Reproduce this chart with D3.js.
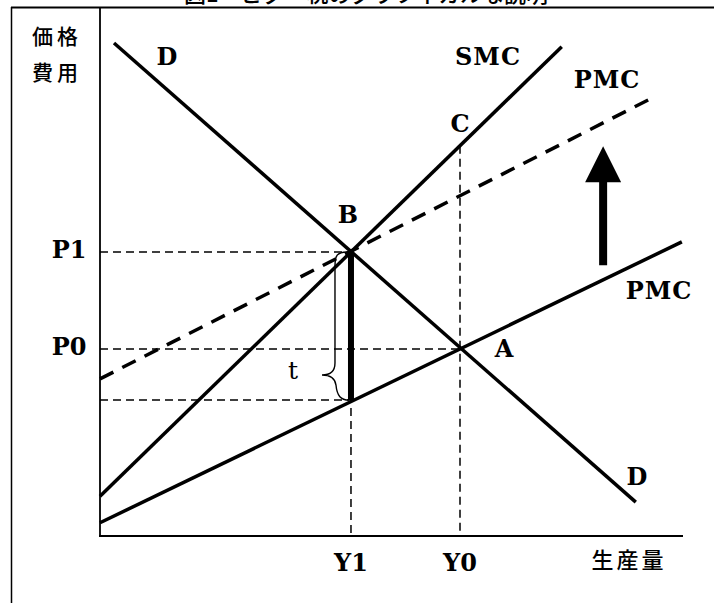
<!doctype html>
<html lang="ja">
<head>
<meta charset="utf-8">
<script src="https://d3js.org/d3.v7.min.js"></script>
<style>
  body { margin: 0; background: #fff; }
  svg { display: block; }
  .jp { font-family: "Noto Sans CJK JP", sans-serif; font-weight: 500; }
  .lbl { font-family: "DejaVu Serif", "Liberation Serif", serif; font-weight: bold; }
</style>
</head>
<body>
<div id="chart"></div>
<script>
// curves, each given by its two end points (quantity, price)
var curveD      = [[2.4, 93.2], [91.9, 6.4]];
var curveSMC    = [[0, 7.5], [79.2, 92.5]];
var curvePMC    = [[0, 2.5], [99.8, 55.6]];
var curvePMCtax = [[0, 29.7], [94.7, 82.8]];

// equilibrium values
var qLabels = ["Y1", "Y0"];
var qValues = [43.05, 61.75];
var pLabels = ["P1", "P0"];
var pValues = [53.7, 35.35];
var pLow = 25.7;          // PMC at Y1 (bottom of the tax wedge)
var shiftArrow = [86.3, 51.2, 73.7];   // x, from, to

var W = 714, H = 603;

var svg = d3.select("#chart").append("svg")
    .attr("width", W).attr("height", H);

var x = d3.scaleLinear().domain([0, 100]).range([100, 683]);
var y = d3.scaleLinear().domain([0, 100]).range([536, 7]);

// title (cut off at the top of the frame, as in the source)
svg.append("text").attr("class", "jp")
    .attr("x", 366).attr("y", 2)
    .attr("text-anchor", "middle")
    .style("font-size", "22px")
    .text("図1　ピグー税のグラフィカルな説明");

// outer frame
svg.append("line").attr("x1", 11).attr("x2", W).attr("y1", 7.5).attr("y2", 7.5)
    .attr("stroke", "#000").attr("stroke-width", 2);
svg.append("line").attr("x1", 11.5).attr("x2", 11.5).attr("y1", 7).attr("y2", H)
    .attr("stroke", "#000").attr("stroke-width", 1.5);

// axes
svg.append("line").attr("x1", x(0)).attr("x2", x(0)).attr("y1", 7).attr("y2", y(0))
    .attr("stroke", "#000").attr("stroke-width", 1.8);
svg.append("line").attr("x1", x(0) - 1).attr("x2", x(100)).attr("y1", y(0)).attr("y2", y(0))
    .attr("stroke", "#000").attr("stroke-width", 2);

// guide dashes
var guides = svg.append("g").attr("stroke", "#000").attr("stroke-width", 1.5)
    .attr("stroke-dasharray", "8,5");
guides.append("line").attr("x1", x(0)).attr("x2", x(qValues[0]))
    .attr("y1", y(pValues[0])).attr("y2", y(pValues[0]));
guides.append("line").attr("x1", x(0)).attr("x2", x(qValues[1]))
    .attr("y1", y(pValues[1])).attr("y2", y(pValues[1]));
guides.append("line").attr("x1", x(0)).attr("x2", x(qValues[0]))
    .attr("y1", y(pLow)).attr("y2", y(pLow));
guides.append("line").attr("x1", x(qValues[0])).attr("x2", x(qValues[0]))
    .attr("y1", y(pValues[0])).attr("y2", y(0));
var smcAtY0 = curveSMC[0][1] + (curveSMC[1][1] - curveSMC[0][1]) / (curveSMC[1][0] - curveSMC[0][0]) * qValues[1];
guides.append("line").attr("x1", x(qValues[1])).attr("x2", x(qValues[1]))
    .attr("y1", y(smcAtY0)).attr("y2", y(0));

var line = d3.line().x(function(d) { return x(d[0]); }).y(function(d) { return y(d[1]); });

svg.append("path").datum(curvePMCtax).attr("d", line)
    .attr("fill", "none").attr("stroke", "#000").attr("stroke-width", 3.5)
    .attr("stroke-dasharray", "15,10");
[curveD, curveSMC, curvePMC].forEach(function(c) {
  svg.append("path").datum(c).attr("d", line)
      .attr("fill", "none").attr("stroke", "#000").attr("stroke-width", 3.5);
});

// tax wedge
svg.append("line").attr("x1", x(qValues[0])).attr("x2", x(qValues[0]))
    .attr("y1", y(pValues[0])).attr("y2", y(pLow))
    .attr("stroke", "#000").attr("stroke-width", 6);

// brace
var bx = x(qValues[0]), bt = y(pValues[0]), bb = y(pLow), bm = bb - 25;
svg.append("path")
    .attr("d", "M" + (bx - 4) + "," + bt +
      " C" + (bx - 14) + "," + bt + " " + (bx - 16) + "," + (bt + 4) + " " + (bx - 16) + "," + (bt + 14) +
      " L" + (bx - 16) + "," + (bm - 12) +
      " C" + (bx - 16) + "," + (bm - 3) + " " + (bx - 22) + "," + bm + " " + (bx - 29) + "," + bm +
      " C" + (bx - 22) + "," + bm + " " + (bx - 16) + "," + (bm + 3) + " " + (bx - 15) + "," + (bm + 10) +
      " C" + (bx - 14) + "," + (bb - 4) + " " + (bx - 10) + "," + bb + " " + (bx - 2) + "," + bb)
    .attr("fill", "none").attr("stroke", "#000").attr("stroke-width", 1.4);

// shift arrow
var ax = x(shiftArrow[0]), a0 = y(shiftArrow[1]), a1 = y(shiftArrow[2]);
svg.append("line").attr("x1", ax).attr("x2", ax).attr("y1", a0).attr("y2", a1 + 30)
    .attr("stroke", "#000").attr("stroke-width", 8);
svg.append("path")
    .attr("d", "M" + ax + "," + a1 + " L" + (ax + 18) + "," + (a1 + 36) + " L" + (ax - 18) + "," + (a1 + 36) + "Z")
    .attr("fill", "#000");

// labels
var labels = [
  ["D", 167, 65], ["SMC", 488, 65], ["PMC", 607, 88], ["C", 460, 132],
  ["B", 348, 223], ["A", 504, 357], ["PMC", 659, 299], ["D", 637, 485]
];
labels.forEach(function(l) {
  svg.append("text").attr("class", "lbl")
      .attr("x", l[1]).attr("y", l[2]).attr("text-anchor", "middle")
      .style("font-size", "24px").style("letter-spacing", l[0].length > 1 ? "1px" : "0")
      .text(l[0]);
});
svg.append("text").attr("class", "lbl").attr("x", 293).attr("y", 379)
    .attr("text-anchor", "middle").style("font-size", "25px").style("font-weight", "normal")
    .text("t");

pLabels.forEach(function(p, i) {
  svg.append("text").attr("class", "lbl")
      .attr("x", 69).attr("y", y(pValues[i]) + 6).attr("text-anchor", "middle")
      .style("font-size", "24px").text(p);
});
qLabels.forEach(function(q, i) {
  svg.append("text").attr("class", "lbl")
      .attr("x", x(qValues[i])).attr("y", 571).attr("text-anchor", "middle")
      .style("font-size", "24px").text(q);
});

svg.append("text").attr("class", "jp").attr("x", 57).attr("y", 44)
    .attr("text-anchor", "middle").style("font-size", "21px").style("letter-spacing", "4px")
    .text("価格");
svg.append("text").attr("class", "jp").attr("x", 57).attr("y", 80)
    .attr("text-anchor", "middle").style("font-size", "21px").style("letter-spacing", "4px")
    .text("費用");
svg.append("text").attr("class", "jp").attr("x", 629).attr("y", 568)
    .attr("text-anchor", "middle").style("font-size", "22px").style("letter-spacing", "3px")
    .text("生産量");
</script>
</body>
</html>
